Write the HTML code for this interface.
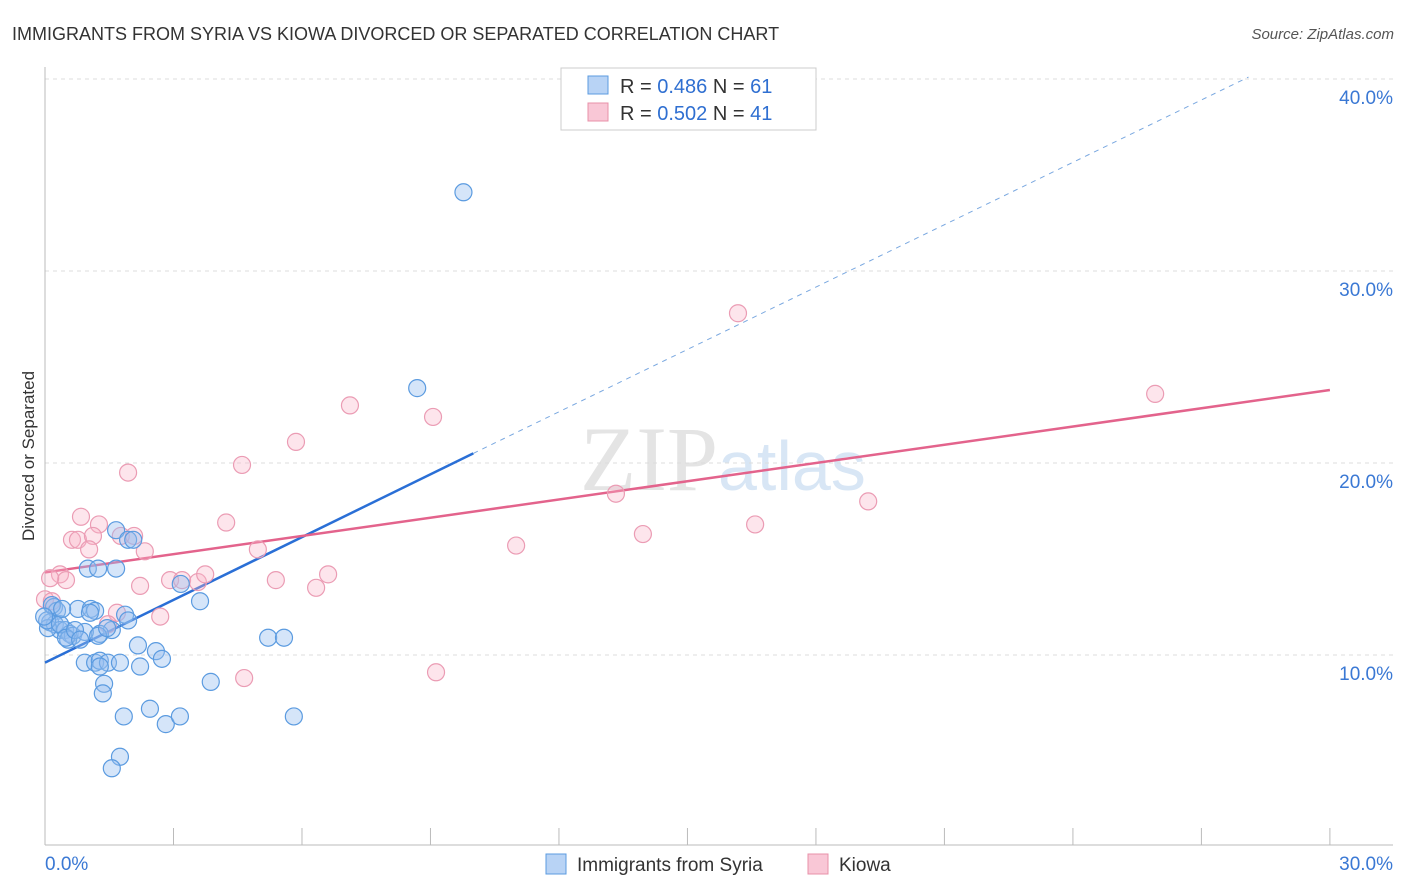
<!DOCTYPE html>
<html><head><meta charset="utf-8"><style>
body{margin:0;background:#fff;font-family:"Liberation Sans",sans-serif}
svg{display:block}
</style></head><body>
<svg id="chart" width="1406" height="892" xmlns="http://www.w3.org/2000/svg" font-family="Liberation Sans, sans-serif">
<text x="12" y="40" font-size="18" fill="#333">IMMIGRANTS FROM SYRIA VS KIOWA DIVORCED OR SEPARATED CORRELATION CHART</text>
<text x="1394" y="39" font-size="15" fill="#555" text-anchor="end" font-style="italic">Source: ZipAtlas.com</text>
<text transform="translate(34,456) rotate(-90)" font-size="17" fill="#333" text-anchor="middle">Divorced or Separated</text>
<text x="718" y="490" font-size="92" fill="#e4e4e4" text-anchor="end" font-family="Liberation Serif, serif">ZIP</text>
<text x="718" y="490" font-size="70" fill="#d8e6f5">atlas</text>
<g id="grid"></g><g id="axes"></g><g id="trend"></g><g id="pts"></g>
<g>
<rect x="561" y="68" width="255" height="62" fill="#fff" stroke="#ccc"/>
<rect x="588" y="76" width="20" height="18" fill="#b8d3f5" stroke="#5b9be0"/>
<rect x="588" y="103" width="20" height="18" fill="#f9c7d6" stroke="#e890a8"/>
<text x="620" y="93" font-size="20" fill="#333">R = <tspan fill="#2f6fd1">0.486</tspan>   N = <tspan fill="#2f6fd1">61</tspan></text>
<text x="620" y="120" font-size="20" fill="#333">R = <tspan fill="#2f6fd1">0.502</tspan>   N = <tspan fill="#2f6fd1">41</tspan></text>
</g>
<g>
<rect x="546" y="854" width="20" height="20" fill="#b8d3f5" stroke="#5b9be0"/>
<text x="577" y="871" font-size="19" fill="#333">Immigrants from Syria</text>
<rect x="808" y="854" width="20" height="20" fill="#f9c7d6" stroke="#e890a8"/>
<text x="839" y="871" font-size="19" fill="#333">Kiowa</text>
</g>
</svg>
<script>
const xTickVals=[0,3,6,9,12,15,18,21,24,27,30];
const yTickVals=[10,20,30,40];
const xLabels=["0.0%","30.0%"];
const syriaX=[9.77,8.69,1.66,1.94,2.06,1.00,1.24,1.66,3.17,3.62,0.21,0.28,0.77,1.07,1.17,1.87,1.94,0.12,0.23,0.35,0.47,0.58,0.65,0.07,1.56,1.28,0.54,0.93,1.24,2.17,2.59,2.73,5.21,5.58,0.93,1.17,1.28,1.47,1.75,2.22,1.38,1.35,3.87,1.84,2.45,2.82,3.15,5.81,1.75,1.56,0.05,0.35,0.16,1.05,0.49,0.70,-0.02,1.45,0.82,1.28,0.40];
const syriaY=[34.1,23.9,16.5,16.0,16.0,14.5,14.5,14.5,13.7,12.8,12.5,12.3,12.4,12.4,12.3,12.1,11.8,11.7,11.6,11.3,11.3,11.1,11.0,11.4,11.3,11.1,10.8,11.2,11.0,10.5,10.2,9.8,10.9,10.9,9.6,9.6,9.7,9.6,9.6,9.4,8.5,8.0,8.6,6.8,7.2,6.4,6.8,6.8,4.7,4.1,11.8,11.6,12.6,12.2,10.9,11.3,12.0,11.4,10.8,9.4,12.4];
const kiowaX=[16.18,25.92,7.12,9.06,5.86,4.60,1.94,13.33,19.22,0.84,4.23,1.26,16.58,13.96,0.63,0.77,1.12,1.77,2.08,2.33,1.03,11.00,4.97,0.35,2.92,3.20,3.57,3.74,5.39,6.61,2.22,6.33,0.49,0.12,1.68,2.69,1.47,0,4.65,9.13,0.16];
const kiowaY=[27.8,23.6,23.0,22.4,21.1,19.9,19.5,18.4,18.0,17.2,16.9,16.8,16.8,16.3,16.0,16.0,16.2,16.2,16.2,15.4,15.5,15.7,15.5,14.2,13.9,13.9,13.8,14.2,13.9,14.2,13.6,13.5,13.9,14.0,12.2,12.0,11.6,12.9,8.8,9.1,12.8];
const syriaTrend=[[0,9.6],[10,20.5]];
const syriaTrendExt=[[10,20.5],[28.1,40.1]];
const kiowaTrend=[[0,14.3],[30,23.8]];
const NS="http://www.w3.org/2000/svg";
const X=v=>45+v*42.83, Y=v=>847-v*19.2;
function mk(p,t,a){const e=document.createElementNS(NS,t);for(const k in a)e.setAttribute(k,a[k]);document.getElementById(p).appendChild(e);return e;}
yTickVals.forEach(v=>{
 const l=mk('grid','line',{x1:45,x2:1393,y1:Y(v),y2:Y(v),stroke:'#ddd','stroke-dasharray':'4,4'});
 
 
 const t=mk('grid','text',{x:1393,y:Y(v)+25,'font-size':19,fill:'#3a78d4','text-anchor':'end'});
 t.textContent=v.toFixed(1)+'%';
 
 
});
const ax=mk('axes','line',{x1:45,x2:1393,y1:845,y2:845,stroke:'#bbb'});


const ay=mk('axes','line',{x1:45,x2:45,y1:67,y2:845,stroke:'#bbb'});


xTickVals.forEach(v=>{
 const t=mk('axes','line',{x1:X(v),x2:X(v),y1:828,y2:845,stroke:'#bbb'});
 
 
});
[[0,'start',45],[30,'end',1393]].forEach((d,i)=>{
 const t=mk('axes','text',{x:d[2],y:870,'font-size':19,fill:'#3a78d4','text-anchor':d[1]});
 t.textContent=xLabels[i];
 
 
});
function pts(xs,ys,fill,stroke,name){xs.forEach((x,i)=>{
 const c=mk('pts','circle',{cx:X(x),cy:Y(ys[i]),r:8.5,fill:fill,stroke:stroke,'stroke-width':1.2});
 
 
});}
pts(kiowaX,kiowaY,'rgba(248,180,200,0.35)','#eb9cb4','kiowa-point');
pts(syriaX,syriaY,'rgba(150,190,240,0.4)','#5b9be0','syria-point');
function ln(seg,col,dash,w,name){
 const l=mk('trend','line',{x1:X(seg[0][0]),y1:Y(seg[0][1]),x2:X(seg[1][0]),y2:Y(seg[1][1]),stroke:col,'stroke-width':w});
 if(dash)l.setAttribute('stroke-dasharray',dash);
 
 
}
ln(syriaTrendExt,'#7aa8e0','5,5',1,'syria-trend-extension');
ln(syriaTrend,'#2a6fd6',null,2.5,'syria-trend-line');
ln(kiowaTrend,'#e3638c',null,2.5,'kiowa-trend-line');
</script>
</body></html>
